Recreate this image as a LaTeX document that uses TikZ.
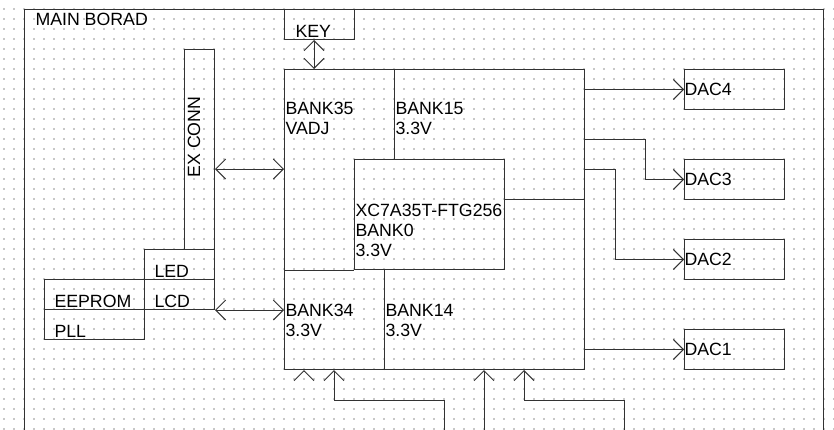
\documentclass[tikz,border=0pt]{standalone}
\usepackage{fontspec}
\setmainfont{Liberation Sans}
\usetikzlibrary{arrows.meta, calc}

\begin{document}
\begin{tikzpicture}[x=0.75pt, y=-0.75pt,
    line width=0.75pt, draw=black!80,
    >={Straight Barb[length=7.5pt, width=15pt]},
    box/.style 2 args={draw, inner sep=0pt, anchor=north west,
        minimum width=#1*0.75pt, minimum height=#2*0.75pt},
    lbl/.style={inner sep=0pt, anchor=base west, align=left,
        font=\fontsize{13.3}{15}\selectfont},
    griddot/.style={draw=black!22, line width=1.2pt,
        dash pattern=on 1.2pt off 6.3pt}]
    % page: 834 x 429 px, y grows downwards
    \useasboundingbox (0,0) rectangle (834,429);
    \fill[white] (0,0) rectangle (834,429);
    \clip (0,0) rectangle (834,429);

    % dotted grid
    \foreach \r in {-1,9,...,429}
        \draw[griddot] (3.2,\r) -- (834,\r);

    % board and blocks
    \node[box={799}{440}] (board) at (24,9) {};
    \node[box={70}{30}] (key) at (284,9) {};
    \node[box={300}{300}] (fpga) at (284,69) {};
    \node[box={150}{110}] (core) at (354,159) {};
    \node[box={30}{200}] (exconn) at (184,49) {};
    \node[box={70}{30}] (led) at (144,249) {};
    \node[box={70}{30}] (lcd) at (144,279) {};
    \node[box={100}{30}] (eeprom) at (44,279) {};
    \node[box={100}{30}] (pll) at (44,309) {};
    \foreach \n/\y in {4/69, 3/159, 2/239, 1/329} {
        \node[box={100}{40}] (dac\n) at (684,\y) {};
        \node[lbl, anchor=west] at (dac\n.west) {DAC\n};
    }

    % bank dividers
    \draw ($(fpga.north west)+(110,0)$) -- ++(0,90);
    \draw (fpga.west |- core.south) -- (core.south west);
    \draw ($(fpga.south west)+(100,0)$) -- ++(0,-100);
    \draw ($(core.north east)+(0,40)$) coordinate (cr) -- (cr -| fpga.east);

    % labels (base = last line)
    \node[lbl] at ($(board.north west)+(11,16)$) {MAIN BORAD};
    \node[lbl] at ($(key.south west)+(11,-3)$) {KEY};
    \node[lbl] at ($(fpga.north west)+(1,65)$) {BANK35\\VADJ};
    \node[lbl] at ($(fpga.north west)+(111,65)$) {BANK15\\3.3V};
    \node[lbl] at ($(core.north west)+(1,97)$) {XC7A35T-FTG256\\BANK0\\3.3V};
    \node[lbl] at ($(fpga.north west)+(1,267)$) {BANK34\\3.3V};
    \node[lbl] at ($(fpga.north west)+(101,267)$) {BANK14\\3.3V};
    \node[lbl] at ($(led.south west)+(10,-3)$) {LED};
    \node[lbl] at ($(lcd.south west)+(10,-3)$) {LCD};
    \node[lbl] at ($(eeprom.south west)+(10,-3)$) {EEPROM};
    \node[lbl] at ($(pll.south west)+(10,-3)$) {PLL};
    \node[lbl, rotate=90] at ($(exconn.north west)+(16,129)$) {EX CONN};

    % links
    \draw[<->] ($(key.south west)+(30,0)$) coordinate (kk) -- (kk |- fpga.north);
    \draw[<->] ($(exconn.north east)+(0,120)$) coordinate (ex) -- (ex -| fpga.west);
    \draw[<->] (lcd.south east) -- (lcd.south east -| fpga.west);
    \draw[->] (dac4.west -| fpga.east) -- (dac4.west);
    \draw[->] ($(fpga.north east)+(0,70)$) -- ++(60,0) |- (dac3.west);
    \draw[->] ($(fpga.north east)+(0,100)$) -- ++(30,0) |- (dac2.west);
    \draw[->] (dac1.west -| fpga.east) -- (dac1.west);

    % inputs from below
    \coordinate (ioa) at (444,435);
    \coordinate (iob) at (484,435);
    \coordinate (ioc) at (624,435);
    \draw[->] ($(fpga.south west)+(20,1)$) -- ($(fpga.south west)+(20,0)$);
    \draw[->] (ioa) |- ($(fpga.south west)+(50,30)$) -- ($(fpga.south west)+(50,0)$);
    \draw[->] (iob) -- (iob |- fpga.south);
    \draw[->] (ioc) |- ($(fpga.south west)+(240,30)$) -- ($(fpga.south west)+(240,0)$);
\end{tikzpicture}
\end{document}
